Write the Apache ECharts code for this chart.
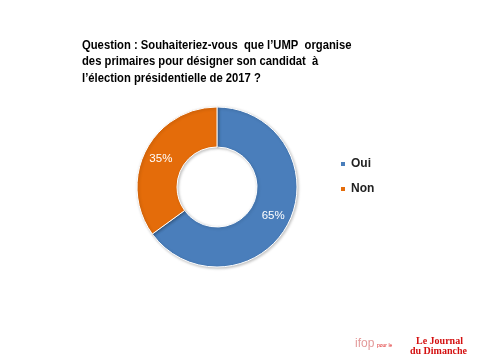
<!DOCTYPE html>
<html><head><meta charset="utf-8">
<script src="https://cdn.jsdelivr.net/npm/echarts@6/dist/echarts.min.js"></script>
<style>html,body{margin:0;padding:0;background:#fff}#c{width:480px;height:360px}</style>
</head><body><div id="c"></div>
<script>
const categories = ['Oui', 'Non'];
const values = [65, 35];
const titleLines = ['Question : Souhaiteriez-vous  que l\u2019UMP  organise', 'des primaires pour désigner son candidat  à', 'l\u2019élection présidentielle de 2017 ?'];
const colors = ['#4a7ebb', '#e46c0a'];

const chart = echarts.init(document.getElementById('c'));
chart.setOption({
  animation: false,
  legend: {
    orient: 'vertical', left: 339, top: 157, padding: 0,
    itemWidth: 6, itemHeight: 6, itemGap: 11, icon: 'rect',
    textStyle: { fontFamily: 'Liberation Sans', fontSize: 12, fontWeight: 'bold', color: '#222', lineHeight: 14 },
    data: categories
  },
  series: [{
    type: 'pie',
    center: [217, 187],
    radius: [40, 80],
    startAngle: 90,
    clockwise: true,
    color: colors,
    itemStyle: { borderColor: '#fff', borderWidth: 1, shadowBlur: 3, shadowColor: 'rgba(0,0,0,0.25)', shadowOffsetX: 1, shadowOffsetY: 1 },
    label: { show: true, position: 'inside', formatter: p => p.value + '%', color: '#fff', fontFamily: 'Liberation Sans', fontSize: 11.5 },
    labelLine: { show: false },
    emphasis: { disabled: true },
    data: categories.map((c, i) => ({ name: c, value: values[i] }))
  }],
  graphic: [
    { type: 'text', x: 82, y: 37, scaleX: 0.9, style: { text: titleLines.join('\n'), fill: '#000', font: 'bold 12.5px "Liberation Sans"', lineHeight: 16.5 } },
    { type: 'text', left: 355, top: 338, style: { text: 'ifop', fill: '#e39a9a', font: '12px "Liberation Sans"' } },
    { type: 'text', left: 377, top: 343, style: { text: 'pour le', fill: '#d22', font: '5px "Liberation Sans"' } },
    { type: 'text', left: 416, top: 336, style: { text: 'Le Journal', fill: '#d41010', font: 'bold 10px "Liberation Serif"' } },
    { type: 'text', left: 410, top: 346, style: { text: 'du Dimanche', fill: '#d41010', font: 'bold 10px "Liberation Serif"' } }
  ]
});
</script></body></html>
